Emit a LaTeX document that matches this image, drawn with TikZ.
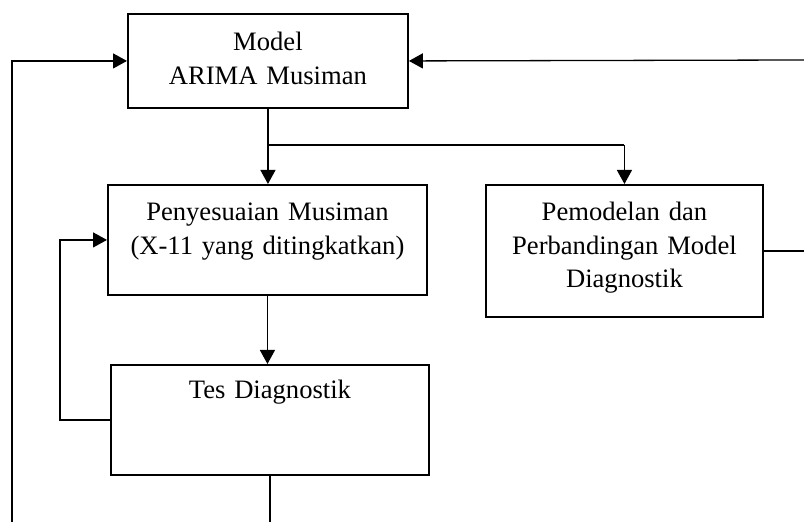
\documentclass[tikz,border=0pt]{standalone}
\usepackage{fontspec}
\setmainfont{Liberation Serif}
\usetikzlibrary{arrows.meta, positioning}
\definecolor{cline}{HTML}{000000}
\tikzset{
  every picture/.style={line width=0.65pt},
  box/.style={draw=cline, line width=0.95pt, fill=white, align=center, inner xsep=0pt, inner ysep=0pt, anchor=north west, font=\fontsize{13.3}{16.75}\selectfont},
  arrow/.style={-{Triangle[length=7pt, width=7.5pt]}, draw=cline, line width=0.65pt},
  link/.style={draw=cline, line width=0.65pt},
}
\begin{document}
\begin{tikzpicture}[x=0.5pt, y=-0.5pt]
  \useasboundingbox (0,0) rectangle (804,522);
  \node[box, text width=140pt, text height=18.5pt, text depth=28.5pt] (mod) at (127,13) {Model\\ ARIMA Musiman};
  \node[box, text width=159.5pt, text height=18pt, text depth=37pt] (pen) at (107,184) {Penyesuaian Musiman\\ (X-11 yang ditingkatkan)};
  \node[box, text width=138.5pt, text height=18pt, text depth=48pt] (pem) at (485,184) {Pemodelan dan\\ Perbandingan Model\\ Diagnostik};
  \node[box, text width=159pt, text height=17pt, text depth=38pt] (tes) at (110,364) {Tes Diagnostik};
  \coordinate (lbot) at (12,522);
  \coordinate (rin) at (804,60);
  % fork below the top box
  \draw[link] (mod.south) -- ++(0,36) coordinate (fork) -- (fork -| pem.north) coordinate (forkr);
  \draw[arrow] (fork) -- (fork |- pen.north);
  \draw[arrow] (forkr) -- (pem.north);
  \draw[arrow] (pen.south) -- (pen.south |- tes.north);
  % feedback loops
  \draw[arrow] (tes.west) -- ++(-50,0) |- (pen.west);
  \draw[arrow] (lbot) |- (mod.west);
  \draw[arrow] (rin) -- (mod.east);
  \draw[link] (pem.east) -- (pem.east -| rin);
  \draw[link] (tes.south) -- (tes.south |- lbot);
\end{tikzpicture}
\end{document}
